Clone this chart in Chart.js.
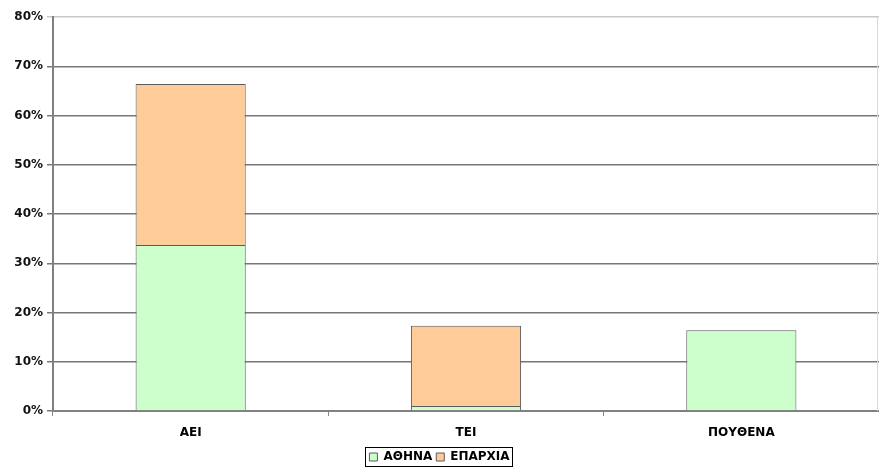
<!DOCTYPE html>
<html lang="el">
<head>
    <meta charset="UTF-8">
    <title>ΑΕΙ / ΤΕΙ</title>
    <script src="https://cdn.jsdelivr.net/npm/chart.js"></script>
    <style>
        * { margin: 0; padding: 0; box-sizing: border-box; }
        body { background: #fff; width: 879px; height: 467px; overflow: hidden; }
        #wrap { width: 879px; height: 467px; }
    </style>
</head>
<body>
    <div id="wrap"><canvas id="graphique"></canvas></div>

    <script>
        // données (%)
        const categories = ['ΑΕΙ', 'ΤΕΙ', 'ΠΟΥΘΕΝΑ'];
        const athina = [33.7, 1.0, 16.4];
        const eparxia = [32.7, 16.3, 0];
        const tickValues = [0, 10, 20, 30, 40, 50, 60, 70, 80];

        const FONT = "'DejaVu Sans', Verdana, sans-serif";

        // cadre autour de la légende + bord droit
        const legendBorder = {
            id: 'legendBorder',
            afterDraw(chart) {
                const boxes = chart.legend.legendHitBoxes;
                if (!boxes || !boxes.length) return;
                let l = Infinity, t = Infinity, r = -Infinity, b = -Infinity;
                boxes.forEach(h => {
                    l = Math.min(l, h.left); t = Math.min(t, h.top);
                    r = Math.max(r, h.left + h.width); b = Math.max(b, h.top + h.height);
                });
                const ctx = chart.ctx;
                ctx.save();
                ctx.strokeStyle = '#000';
                ctx.lineWidth = 1;
                ctx.strokeRect(Math.round(l - 4) + 0.5, Math.round(t - 4) + 0.5, Math.round(r - l + 7), Math.round(b - t + 7));
                const a = chart.chartArea;
                ctx.strokeStyle = '#d8d8d8';
                ctx.beginPath();
                ctx.moveTo(a.right - 1.5, a.top);
                ctx.lineTo(a.right - 1.5, a.bottom);
                ctx.stroke();
                ctx.restore();
            }
        };

        new Chart(document.getElementById('graphique'), {
            type: 'bar',
            data: {
                labels: categories,
                datasets: [
                    {
                        label: 'ΑΘΗΝΑ',
                        data: athina,
                        backgroundColor: '#ccffcc',
                        borderColor: '#5a5a5a',
                        borderWidth: 1
                    },
                    {
                        label: 'ΕΠΑΡΧΙΑ',
                        data: eparxia,
                        backgroundColor: '#ffcc99',
                        borderColor: '#5a5a5a',
                        borderWidth: 1
                    }
                ]
            },
            plugins: [legendBorder],
            options: {
                responsive: true,
                maintainAspectRatio: false,
                animation: false,
                layout: { padding: { top: 17, right: 0, left: 0, bottom: -6 } },
                datasets: {
                    bar: { categoryPercentage: 1, barPercentage: 0.4 }
                },
                plugins: {
                    tooltip: { enabled: false },
                    legend: {
                        position: 'bottom',
                        labels: {
                            boxWidth: 8,
                            boxHeight: 8,
                            padding: 4,
                            color: '#000',
                            font: { family: FONT, size: 12, weight: 'bold' }
                        }
                    }
                },
                scales: {
                    x: {
                        stacked: true,
                        grid: {
                            offset: true,
                            drawOnChartArea: false,
                            tickLength: 5,
                            color: '#888'
                        },
                        border: { color: '#808080', width: 2 },
                        ticks: {
                            color: '#000',
                            padding: 10,
                            font: { family: FONT, size: 12, weight: 'bold' }
                        },
                        afterFit(scale) { scale.height = 36; }
                    },
                    y: {
                        stacked: true,
                        min: 0,
                        max: 80,
                        afterBuildTicks(scale) {
                            scale.ticks = tickValues.map(v => ({ value: v }));
                        },
                        grid: {
                            color: ctx => ctx.tick && ctx.tick.value === 80 ? '#c8c8c8' : '#777',
                            lineWidth: 1.5,
                            tickLength: 6
                        },
                        border: { color: '#808080', width: 2 },
                        ticks: {
                            color: '#111',
                            padding: 4,
                            font: { family: FONT, size: 12, weight: 'bold' },
                            callback: v => v + '%'
                        },
                        afterFit(scale) { scale.width = 53; }
                    }
                }
            }
        });
    </script>
</body>
</html>
